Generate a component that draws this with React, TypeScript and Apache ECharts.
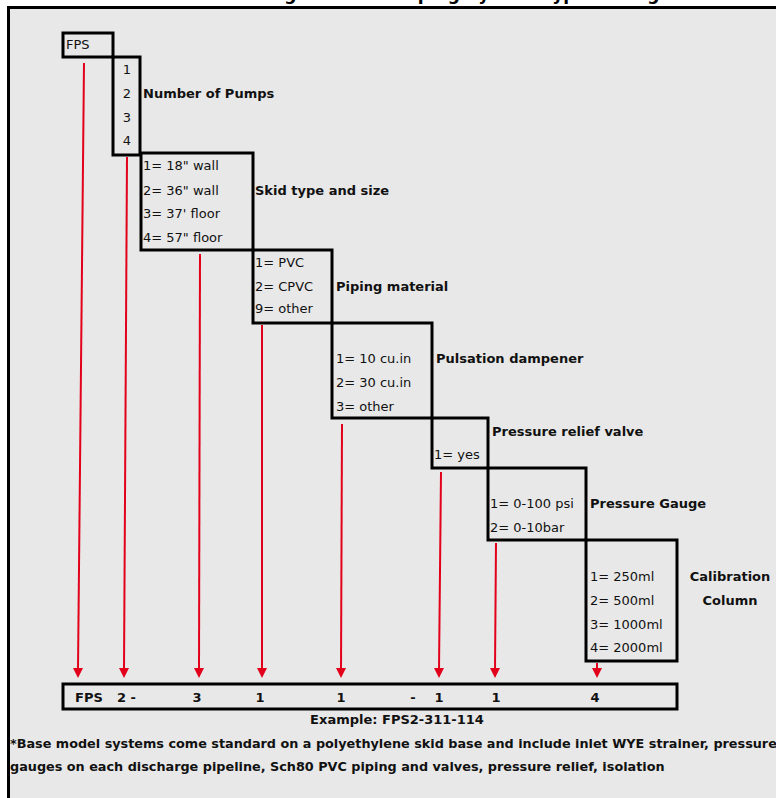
import React, { useEffect, useRef } from "react";
import * as echarts from "echarts";

// ---- data ----
const titleText = "Engineered Pumping System Type Coding";
const segmentTitles = [
  "",
  "Number of Pumps",
  "Skid type and size",
  "Piping material",
  "Pulsation dampener",
  "Pressure relief valve",
  "Pressure Gauge",
  "Calibration\nColumn",
];
const segmentOptions = [
  ["FPS"],
  ["1", "2", "3", "4"],
  ['1= 18" wall', '2= 36" wall', "3= 37' floor", '4= 57" floor'],
  ["1= PVC", "2= CPVC", "9= other"],
  ["1= 10 cu.in", "2= 30 cu.in", "3= other"],
  ["1= yes"],
  ["1= 0-100 psi", "2= 0-10bar"],
  ["1= 250ml", "2= 500ml", "3= 1000ml", "4= 2000ml"],
];
const exampleTokens = ["FPS", "2 -", "3", "1", "1", "-", "1", "1", "4"];
const exampleCaption = "Example: FPS2-311-114";
const footnoteLines = [
  "*Base model systems come standard on a polyethylene skid base and include inlet WYE strainer, pressure",
  "gauges on each discharge pipeline, Sch80 PVC piping and valves, pressure relief, isolation",
];

// ---- layout (pixels) ----
const boxRects = [
  [63, 33, 113, 57],
  [113, 57, 140, 155],
  [141, 153, 253, 250],
  [253, 250, 332, 323],
  [332, 323, 432, 418],
  [432, 418, 488, 468],
  [488, 468, 586, 540],
  [586, 540, 677, 661],
];
const optionX = [66, 127, 143, 255, 336, 434, 490, 590];
const optionAlign = ["left", "center", "left", "left", "left", "left", "left", "left"];
const optionY = [
  [44],
  [69, 93, 117, 140],
  [165, 190, 213, 237],
  [262, 286, 308],
  [358, 382, 406],
  [454],
  [503, 527],
  [576, 600, 624, 647],
];
const labelPos = [
  [0, 0],
  [143, 93],
  [255, 190],
  [336, 286],
  [436, 358],
  [492, 431],
  [590, 503],
  [730, 588],
];
const arrowPos = [
  [84, 63, 78],
  [127, 157, 124],
  [200, 254, 199],
  [262, 325, 262],
  [342, 424, 341],
  [441, 472, 439],
  [496, 543, 495],
  [597, 663, 597],
];
const arrowTipY = 678;
const tokenX = [75, 117, 197, 260, 341, 413, 439, 496, 595];
const tokenAlign = ["left", "left", "center", "center", "center", "center", "center", "center", "center"];

const FONT = "DejaVu Sans";
const RED = "#e2001a";

export default function App() {
  const ref = useRef<HTMLDivElement>(null);
  useEffect(() => {
    document.body.style.margin = "0";
    const chart = echarts.init(ref.current!, null, { renderer: "svg" });
    const els: any[] = [];
    // white page + gray panel
    els.push({ type: "rect", shape: { x: 0, y: 0, width: 776, height: 798 }, style: { fill: "#ffffff" } });
    els.push({ type: "rect", shape: { x: 7, y: 6, width: 769, height: 792 }, style: { fill: "#e8e8e8" } });
    // title (cut off at top edge, as in the reference)
    els.push({
      type: "text", x: 460, y: 2,
      style: { text: titleText, fill: "#000", fontFamily: FONT, fontWeight: "bold", fontSize: 17, align: "center", verticalAlign: "bottom" },
    });
    els.push({ type: "rect", shape: { x: 7, y: 6, width: 769, height: 3 }, style: { fill: "#000" } });
    els.push({ type: "line", shape: { x1: 7, y1: 7.5, x2: 776, y2: 7.5 }, style: { stroke: "#000", lineWidth: 3 } });
    els.push({ type: "line", shape: { x1: 8.5, y1: 6, x2: 8.5, y2: 798 }, style: { stroke: "#000", lineWidth: 3 } });
    // arrows
    arrowPos.forEach(([x0, y0, x1]) => {
      els.push({ type: "line", shape: { x1: x0, y1: y0, x2: x1, y2: arrowTipY - 8 }, style: { stroke: RED, lineWidth: 2 } });
      els.push({
        type: "polygon",
        shape: { points: [[x1 - 5, arrowTipY - 10], [x1 + 5, arrowTipY - 10], [x1, arrowTipY]] },
        style: { fill: RED },
      });
    });
    // boxes
    boxRects.forEach(([x0, y0, x1, y1]) => {
      els.push({
        type: "rect", shape: { x: x0, y: y0, width: x1 - x0, height: y1 - y0 },
        style: { fill: "none", stroke: "#000", lineWidth: 3 },
      });
    });
    // options
    segmentOptions.forEach((opts, i) => {
      opts.forEach((t, j) => {
        els.push({
          type: "text", x: optionX[i], y: optionY[i][j],
          style: { text: t, fill: "#111", fontFamily: FONT, fontSize: 13, align: optionAlign[i], verticalAlign: "middle" },
        });
      });
    });
    // labels
    segmentTitles.forEach((t, i) => {
      if (!t) return;
      const centered = t.includes("\n");
      els.push({
        type: "text", x: labelPos[i][0], y: labelPos[i][1],
        style: {
          text: t, fill: "#111", fontFamily: FONT, fontWeight: "bold", fontSize: 13,
          align: centered ? "center" : "left", verticalAlign: "middle", lineHeight: 24,
        },
      });
    });
    // example box
    els.push({
      type: "rect", shape: { x: 63, y: 684, width: 614, height: 25 },
      style: { fill: "none", stroke: "#000", lineWidth: 3 },
    });
    exampleTokens.forEach((t, i) => {
      els.push({
        type: "text", x: tokenX[i], y: 697,
        style: { text: t, fill: "#111", fontFamily: FONT, fontWeight: "bold", fontSize: 13, align: tokenAlign[i], verticalAlign: "middle" },
      });
    });
    els.push({
      type: "text", x: 397, y: 719,
      style: { text: exampleCaption, fill: "#111", fontFamily: FONT, fontWeight: "bold", fontSize: 13, align: "center", verticalAlign: "middle" },
    });
    footnoteLines.forEach((t, i) => {
      els.push({
        type: "text", x: 10, y: 743 + i * 23,
        style: { text: t, fill: "#111", fontFamily: FONT, fontWeight: "bold", fontSize: 12.8, align: "left", verticalAlign: "middle" },
      });
    });
    chart.setOption({ animation: false, graphic: { elements: els } });
    return () => chart.dispose();
  }, []);
  return <div ref={ref} style={{ width: 776, height: 798 }} />;
}
